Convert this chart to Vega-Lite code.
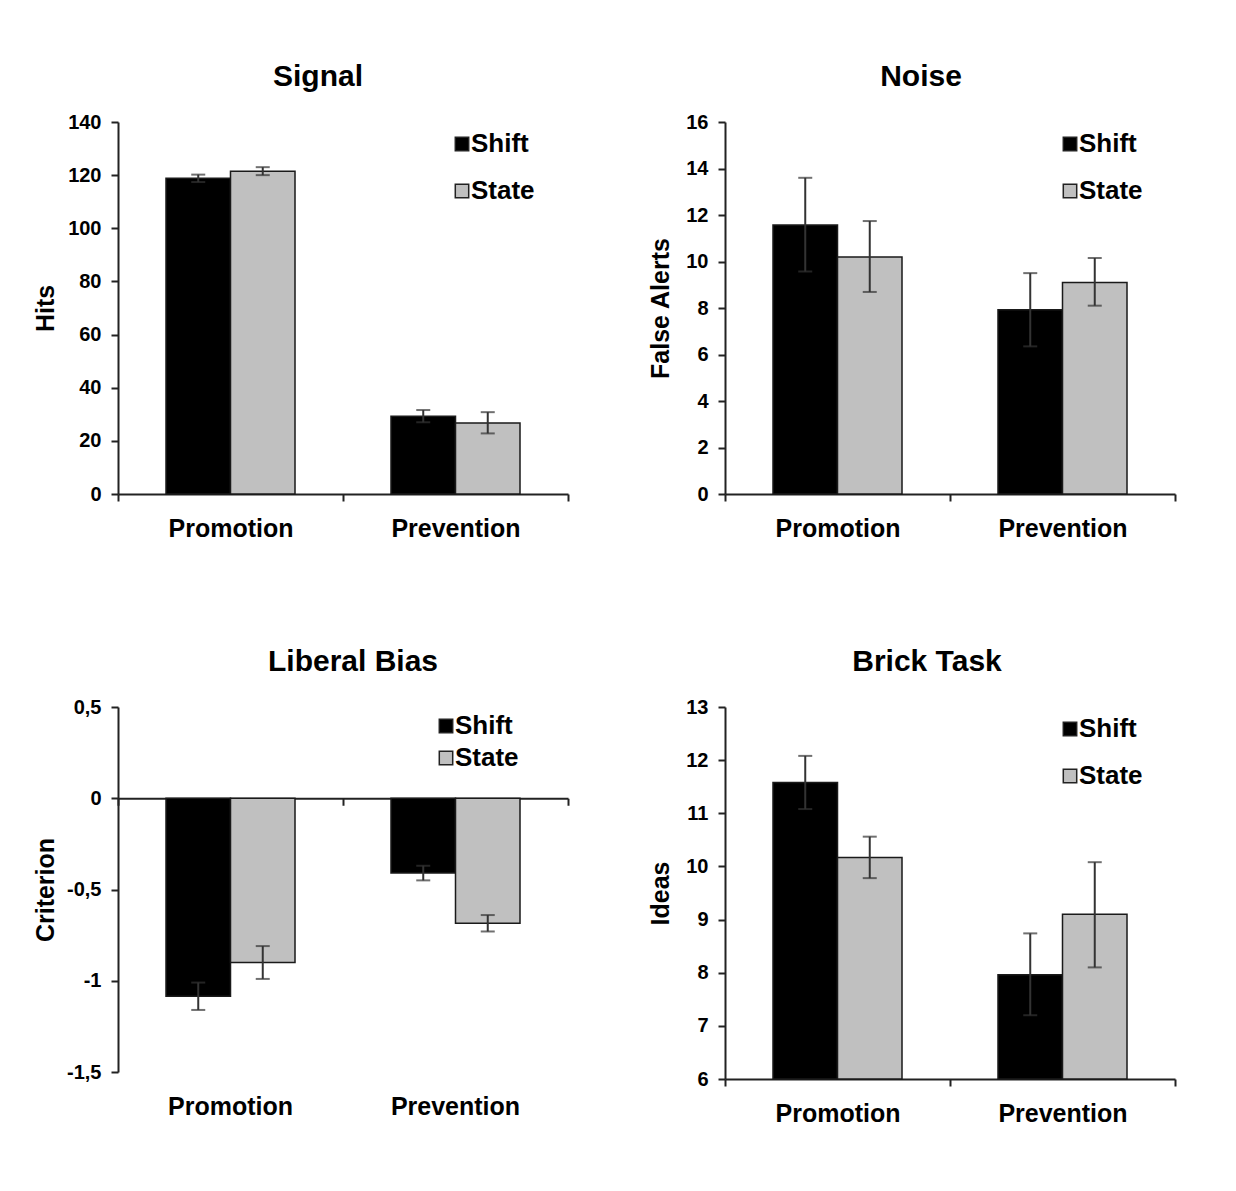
{
  "$schema": "https://vega.github.io/schema/vega-lite/v6.json",
  "background": "white",
  "padding": {"left": 33, "top": 62, "right": 10, "bottom": 10},
  "config": {
    "font": "Liberation Sans",
    "view": {"stroke": null},
    "axis": {"grid": false, "domainColor": "#222", "domainWidth": 2, "tickColor": "#222", "tickWidth": 2, "tickSize": 7,
      "labelFont": "Liberation Sans", "labelFontWeight": "bold", "labelColor": "#000",
      "titleFont": "Liberation Sans", "titleFontWeight": "bold", "titleColor": "#000", "titleFontSize": 25},
    "axisX": {"labelFontSize": 25, "labelAngle": 0, "labelPadding": 15},
    "axisY": {"labelFontSize": 20, "labelPadding": 10, "titleBaseline": "middle"},
    "legend": {"labelFont": "Liberation Sans", "labelFontSize": 26, "labelFontWeight": "bold", "labelColor": "#000",
      "symbolType": "square", "symbolSize": 180, "symbolStrokeColor": "#222", "symbolStrokeWidth": 1.5,
      "labelOffset": -4, "padding": 0, "rowPadding": 21, "orient": "none"},
    "title": {"fontSize": 30, "fontWeight": "bold", "color": "#000", "font": "Liberation Sans", "anchor": "middle", "offset": 20}
  },
  "columns": 2,
  "spacing": {"row": 213, "column": 157},
  "bounds": "flush",
  "resolve": {"scale": {"color": "independent", "x": "independent", "y": "independent", "xOffset": "independent"}, "legend": {"color": "independent"}},
  "concat": [
    {
      "title": {"text": "Signal", "dx": -25},
      "width": 450, "height": 372,
      "data": {"values": [
        {"group": "Promotion", "series": "Shift", "value": 118.8, "lo": 117.4, "hi": 120.2},
        {"group": "Promotion", "series": "State", "value": 121.5, "lo": 120.0, "hi": 123.0},
        {"group": "Prevention", "series": "Shift", "value": 29.3, "lo": 27.0, "hi": 31.6},
        {"group": "Prevention", "series": "State", "value": 26.7, "lo": 22.8, "hi": 30.8}
      ]},
      "encoding": {
        "x": {"field": "group", "type": "nominal", "sort": ["Promotion", "Prevention"], "scale": {"paddingInner": 0, "paddingOuter": 0}, "axis": {"title": null, "tickBand": "extent"}},
        "xOffset": {"field": "series", "type": "nominal", "scale": {"domain": ["Shift", "State"], "paddingInner": 0, "paddingOuter": 0.744}}
      },
      "layer": [
        {"mark": {"type": "bar", "stroke": "#1a1a1a", "strokeWidth": 1.5},
         "encoding": {
           "y": {"field": "value", "type": "quantitative", "scale": {"domain": [0, 140], "nice": false}, "axis": {"title": "Hits", "values": [0,20,40,60,80,100,120,140], "titleX": -73}},
           "color": {"field": "series", "type": "nominal", "scale": {"domain": ["Shift", "State"], "range": ["#000000", "#c0c0c0"]}, "legend": {"title": null, "legendX": 331, "legendY": 9}}
         }},
        {"mark": {"type": "rule", "strokeWidth": 2, "color": "#333"},
         "encoding": {"y": {"field": "lo", "type": "quantitative", "scale": {"domain": [0, 140], "nice": false}}, "y2": {"field": "hi"}}},
        {"mark": {"type": "tick", "orient": "horizontal", "size": 14, "thickness": 2, "color": "#333"},
         "encoding": {"y": {"field": "lo", "type": "quantitative", "scale": {"domain": [0, 140], "nice": false}}}},
        {"mark": {"type": "tick", "orient": "horizontal", "size": 14, "thickness": 2, "color": "#333"},
         "encoding": {"y": {"field": "hi", "type": "quantitative", "scale": {"domain": [0, 140], "nice": false}}}}
      ]
    },
    {
      "title": {"text": "Noise", "dx": -29},
      "width": 450, "height": 372,
      "data": {"values": [
        {"group": "Promotion", "series": "Shift", "value": 11.57, "lo": 9.57, "hi": 13.6},
        {"group": "Promotion", "series": "State", "value": 10.19, "lo": 8.69, "hi": 11.74},
        {"group": "Prevention", "series": "Shift", "value": 7.93, "lo": 6.35, "hi": 9.5},
        {"group": "Prevention", "series": "State", "value": 9.1, "lo": 8.1, "hi": 10.15}
      ]},
      "encoding": {
        "x": {"field": "group", "type": "nominal", "sort": ["Promotion", "Prevention"], "scale": {"paddingInner": 0, "paddingOuter": 0}, "axis": {"title": null, "tickBand": "extent"}},
        "xOffset": {"field": "series", "type": "nominal", "scale": {"domain": ["Shift", "State"], "paddingInner": 0, "paddingOuter": 0.744}}
      },
      "layer": [
        {"mark": {"type": "bar", "stroke": "#1a1a1a", "strokeWidth": 1.5},
         "encoding": {
           "y": {"field": "value", "type": "quantitative", "scale": {"domain": [0, 16], "nice": false}, "axis": {"title": "False Alerts", "values": [0,2,4,6,8,10,12,14,16], "titleX": -65}},
           "color": {"field": "series", "type": "nominal", "scale": {"domain": ["Shift", "State"], "range": ["#000000", "#c0c0c0"]}, "legend": {"title": null, "legendX": 332, "legendY": 9}}
         }},
        {"mark": {"type": "rule", "strokeWidth": 2, "color": "#333"},
         "encoding": {"y": {"field": "lo", "type": "quantitative", "scale": {"domain": [0, 16], "nice": false}}, "y2": {"field": "hi"}}},
        {"mark": {"type": "tick", "orient": "horizontal", "size": 14, "thickness": 2, "color": "#333"},
         "encoding": {"y": {"field": "lo", "type": "quantitative", "scale": {"domain": [0, 16], "nice": false}}}},
        {"mark": {"type": "tick", "orient": "horizontal", "size": 14, "thickness": 2, "color": "#333"},
         "encoding": {"y": {"field": "hi", "type": "quantitative", "scale": {"domain": [0, 16], "nice": false}}}}
      ]
    },
    {
      "title": {"text": "Liberal Bias", "dx": 10},
      "width": 450, "height": 365,
      "data": {"values": [
        {"group": "Promotion", "series": "Shift", "value": -1.085, "lo": -1.16, "hi": -1.01},
        {"group": "Promotion", "series": "State", "value": -0.9, "lo": -0.99, "hi": -0.81},
        {"group": "Prevention", "series": "Shift", "value": -0.41, "lo": -0.45, "hi": -0.37},
        {"group": "Prevention", "series": "State", "value": -0.685, "lo": -0.73, "hi": -0.64}
      ]},
      "encoding": {
        "xOffset": {"field": "series", "type": "nominal", "scale": {"domain": ["Shift", "State"], "paddingInner": 0, "paddingOuter": 0.744}}
      },
      "resolve": {"axis": {"x": "independent"}},
      "layer": [
        {"mark": {"type": "bar", "stroke": "#1a1a1a", "strokeWidth": 1.5},
         "encoding": {
           "x": {"field": "group", "type": "nominal", "sort": ["Promotion", "Prevention"], "scale": {"paddingInner": 0, "paddingOuter": 0}, "axis": {"title": null, "domain": false, "ticks": false, "labelPadding": 22, "orient": "bottom"}},
           "y": {"field": "value", "type": "quantitative", "scale": {"domain": [-1.5, 0.5], "nice": false}, "axis": {"title": "Criterion", "values": [-1.5,-1,-0.5,0,0.5], "titleX": -73, "labelExpr": "replace(toString(datum.value), '.', ',')"}},
           "color": {"field": "series", "type": "nominal", "scale": {"domain": ["Shift", "State"], "range": ["#000000", "#c0c0c0"]}, "legend": {"title": null, "legendX": 315, "legendY": 6, "rowPadding": 6}}
         }},
        {"mark": {"type": "rule", "strokeWidth": 2, "color": "#333"},
         "encoding": {
           "x": {"field": "group", "type": "nominal", "sort": ["Promotion", "Prevention"], "axis": {"title": null, "labels": false, "tickBand": "extent", "orient": "bottom", "offset": -273.75}},
           "y": {"field": "lo", "type": "quantitative", "scale": {"domain": [-1.5, 0.5], "nice": false}}, "y2": {"field": "hi"}}},
        {"mark": {"type": "tick", "orient": "horizontal", "size": 14, "thickness": 2, "color": "#333"},
         "encoding": {"x": {"field": "group", "type": "nominal", "sort": ["Promotion", "Prevention"], "axis": null}, "y": {"field": "lo", "type": "quantitative", "scale": {"domain": [-1.5, 0.5], "nice": false}}}},
        {"mark": {"type": "tick", "orient": "horizontal", "size": 14, "thickness": 2, "color": "#333"},
         "encoding": {"x": {"field": "group", "type": "nominal", "sort": ["Promotion", "Prevention"], "axis": null}, "y": {"field": "hi", "type": "quantitative", "scale": {"domain": [-1.5, 0.5], "nice": false}}}}
      ]
    },
    {
      "title": {"text": "Brick Task", "dx": -23},
      "width": 450, "height": 372,
      "data": {"values": [
        {"group": "Promotion", "series": "Shift", "value": 11.58, "lo": 11.08, "hi": 12.08},
        {"group": "Promotion", "series": "State", "value": 10.17, "lo": 9.78, "hi": 10.56},
        {"group": "Prevention", "series": "Shift", "value": 7.96, "lo": 7.2, "hi": 8.74},
        {"group": "Prevention", "series": "State", "value": 9.1, "lo": 8.1, "hi": 10.08}
      ]},
      "encoding": {
        "x": {"field": "group", "type": "nominal", "sort": ["Promotion", "Prevention"], "scale": {"paddingInner": 0, "paddingOuter": 0}, "axis": {"title": null, "tickBand": "extent"}},
        "xOffset": {"field": "series", "type": "nominal", "scale": {"domain": ["Shift", "State"], "paddingInner": 0, "paddingOuter": 0.744}}
      },
      "layer": [
        {"mark": {"type": "bar", "stroke": "#1a1a1a", "strokeWidth": 1.5},
         "encoding": {
           "y": {"field": "value", "type": "quantitative", "scale": {"domain": [6, 13], "zero": false, "nice": false}, "axis": {"title": "Ideas", "values": [6,7,8,9,10,11,12,13], "format": "d", "titleX": -65}},
           "y2": {"datum": 6},
           "color": {"field": "series", "type": "nominal", "scale": {"domain": ["Shift", "State"], "range": ["#000000", "#c0c0c0"]}, "legend": {"title": null, "legendX": 332, "legendY": 9}}
         }},
        {"mark": {"type": "rule", "strokeWidth": 2, "color": "#333"},
         "encoding": {"y": {"field": "lo", "type": "quantitative", "scale": {"domain": [6, 13], "zero": false, "nice": false}}, "y2": {"field": "hi"}}},
        {"mark": {"type": "tick", "orient": "horizontal", "size": 14, "thickness": 2, "color": "#333"},
         "encoding": {"y": {"field": "lo", "type": "quantitative", "scale": {"domain": [6, 13], "zero": false, "nice": false}}}},
        {"mark": {"type": "tick", "orient": "horizontal", "size": 14, "thickness": 2, "color": "#333"},
         "encoding": {"y": {"field": "hi", "type": "quantitative", "scale": {"domain": [6, 13], "zero": false, "nice": false}}}}
      ]
    }
  ]
}
